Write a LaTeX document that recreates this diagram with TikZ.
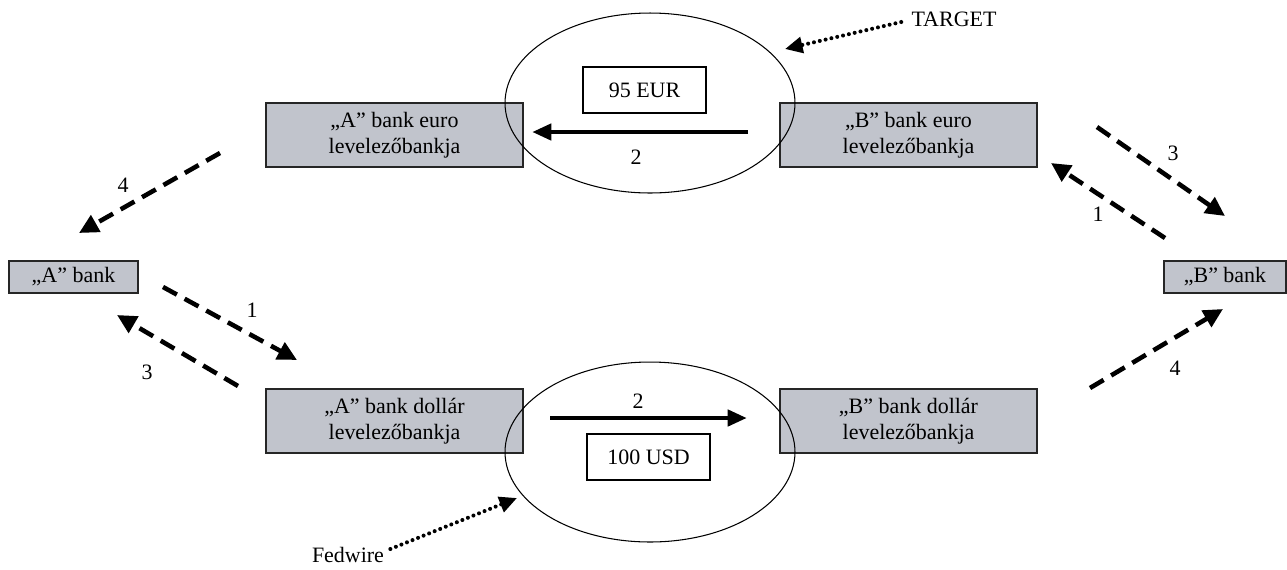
\documentclass[tikz,border=0pt]{standalone}
\usepackage{fontspec}
\setmainfont{Liberation Serif}
\usetikzlibrary{arrows.meta,shapes.geometric}
\definecolor{boxgray}{RGB}{193,196,204}
\tikzset{
    bankbox/.style={draw=black!85, fill=boxgray, line width=0.8pt, align=center,
        inner sep=0pt, minimum width=5.14cm, minimum height=1.28cm},
    smallbank/.style={draw=black!85, fill=boxgray, line width=0.8pt, inner sep=0pt,
        minimum height=0.64cm},
    amountbox/.style={draw=black, fill=white, line width=0.7pt, inner sep=0pt,
        minimum width=2.46cm, minimum height=0.92cm},
    netring/.style={draw=black, ellipse, line width=0.6pt, inner sep=0pt,
        minimum width=5.8cm, minimum height=3.6cm},
    steplabel/.style={inner sep=0pt},
    msgarrow/.style={line width=2.6pt, dash pattern=on 9pt off 5pt,
        -{Triangle[length=11pt,width=10.5pt]}},
    payarrow/.style={line width=2.8pt, -{Triangle[length=11pt,width=9pt]}},
    systemarrow/.style={line width=2.3pt, line cap=round, dash pattern=on 0pt off 3.4pt,
        -{Triangle[length=10pt,width=9pt]}}
}
\begin{document}
\begin{tikzpicture}[x=0.02cm, y=-0.02cm, font=\fontsize{12.5}{15}\selectfont]
    \useasboundingbox (0,0) rectangle (1287,569);

    % correspondent banks
    \node[bankbox] (aeuro) at (394.5,135) {„A” bank euro\\levelezőbankja};
    \node[bankbox] (beuro) at (908.5,135) {„B” bank euro\\levelezőbankja};
    \node[bankbox] (adollar) at (394.5,421) {„A” bank dollár\\levelezőbankja};
    \node[bankbox] (bdollar) at (908.5,421) {„B” bank dollár\\levelezőbankja};

    % the banks themselves
    \node[smallbank, minimum width=2.58cm] (abank) at (73.5,277) {„A” bank};
    \node[smallbank, minimum width=2.44cm] (bbank) at (1225,277) {„B” bank};

    % the two settlement systems, drawn over the boxes
    \node[netring] (target) at (650,103) {};
    \node[netring] (fedwire) at (650,452) {};

    % amounts
    \node[amountbox] (eur) at (644.5,90) {95 EUR};
    \node[amountbox] (usd) at (648.5,457) {100 USD};

    % arrow ends
    \coordinate (eurfrom) at (748,132);
    \coordinate (eurto) at (532,132);
    \coordinate (usdfrom) at (550,418);
    \coordinate (usdto) at (747,418);
    \coordinate (a1from) at (163,287);
    \coordinate (a1to) at (297,360);
    \coordinate (a3from) at (238,386);
    \coordinate (a3to) at (117,315);
    \coordinate (a4from) at (220,153);
    \coordinate (a4to) at (79,233);
    \coordinate (b1from) at (1165,238);
    \coordinate (b1to) at (1051,163);
    \coordinate (b3from) at (1097,127);
    \coordinate (b3to) at (1225,216);
    \coordinate (b4from) at (1090,388);
    \coordinate (b4to) at (1223,309);

    % payments
    \draw[payarrow] (eurfrom) -- (eurto);
    \draw[payarrow] (usdfrom) -- (usdto);
    \node[steplabel] (eurstep) at (636,157) {2};
    \node[steplabel] (usdstep) at (638,401) {2};

    % messages
    \draw[msgarrow] (a1from) -- (a1to);
    \draw[msgarrow] (a3from) -- (a3to);
    \draw[msgarrow] (a4from) -- (a4to);
    \draw[msgarrow] (b1from) -- (b1to);
    \draw[msgarrow] (b3from) -- (b3to);
    \draw[msgarrow] (b4from) -- (b4to);
    \node[steplabel] (a1step) at (252,310) {1};
    \node[steplabel] (a3step) at (147,372) {3};
    \node[steplabel] (a4step) at (123,185) {4};
    \node[steplabel] (b1step) at (1098,214) {1};
    \node[steplabel] (b3step) at (1173,153) {3};
    \node[steplabel] (b4step) at (1175,368) {4};

    % system names
    \node[steplabel] (targetname) at (954,19) {TARGET};
    \node[steplabel] (fedname) at (348,555) {Fedwire};
    \coordinate (targetto) at (785,49);
    \coordinate (fedto) at (517,498);
    \draw[systemarrow] (targetname.west) ++(-10,3) -- (targetto);
    \draw[systemarrow] (fedname.east) ++(6,-6) -- (fedto);
\end{tikzpicture}
\end{document}
